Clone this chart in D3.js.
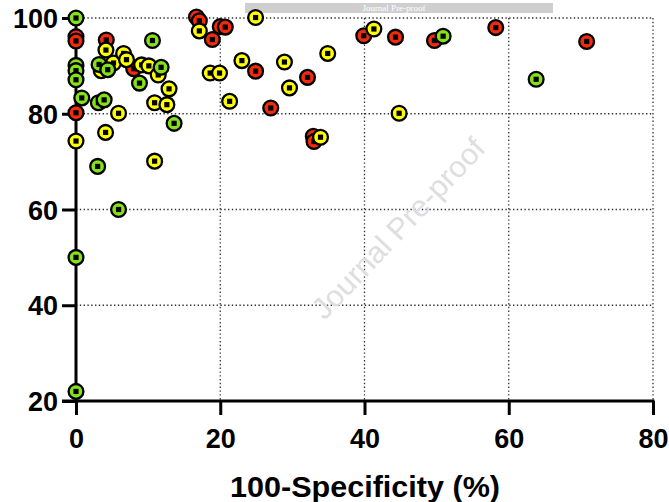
<!DOCTYPE html>
<html><head><meta charset="utf-8">
<script src="https://cdn.jsdelivr.net/npm/d3@7"></script>
<style>body{margin:0;background:#fff}svg{display:block}</style>
</head><body>
<svg id="c" width="669" height="502"></svg>
<script>
const xTicks = [0, 20, 40, 60, 80];
const yTicks = [20, 40, 60, 80, 100];
const xTitle = "100-Specificity (%)";
const redPts = [[0,96.1],[0,95.2],[0,80.2],[4.2,95.4],[8.0,89.4],[16.7,100.2],[17.1,99.4],[18.9,95.5],[20.0,98.2],[20.7,98.1],[24.9,88.9],[27.0,81.2],[32.1,87.6],[32.9,75.3],[33.0,74.2],[39.9,96.3],[44.3,96.0],[49.7,95.3],[58.2,98.0],[70.8,95.1]];
const yellowPts = [[0,74.3],[4.15,93.3],[3.5,89.0],[5.2,90.6],[6.6,92.6],[7.0,91.3],[9.1,90.2],[10.1,90.0],[11.4,88.1],[12.9,85.2],[10.9,82.3],[12.6,81.9],[5.9,80.1],[4.1,76.1],[10.9,70.1],[17.1,97.3],[18.6,88.5],[19.9,88.5],[21.3,82.6],[23.0,91.1],[24.9,100.1],[28.9,90.8],[29.6,85.4],[34.9,92.6],[33.9,75.1],[41.3,97.7],[44.8,80.1]];
const greenPts = [[0,100],[0,90.1],[0,89.0],[0,87.1],[0,50],[0,22],[0.8,83.3],[3.1,82.3],[3.9,82.9],[3.0,69.0],[5.9,60.0],[3.2,90.3],[4.4,89.2],[8.8,86.4],[11.8,89.7],[10.6,95.3],[13.6,78.0],[50.9,96.2],[63.8,87.2]];
const seriesColors = ["#f52a0c", "#ffff00", "#85e21a"];

const svg = d3.select("#c");
const m = {l:76, r:16, t:18, b:101};
const W = 669, H = 502;
const x = d3.scaleLinear().domain([0,80]).range([m.l, W-m.r]);
const y = d3.scaleLinear().domain([20,100]).range([H-m.b, m.t]);

// header bar
svg.append("rect").attr("x",245).attr("y",3).attr("width",308).attr("height",10).attr("fill","#cfcfcf");
svg.append("text").attr("x",394).attr("y",11.3).attr("text-anchor","middle")
  .attr("font-family","Liberation Serif, serif").attr("font-size",9).attr("fill","#fff").text("Journal Pre-proof");

// grid
const g = svg.append("g");
g.selectAll("line.gx").data(xTicks.filter(d=>d>0)).join("line")
  .attr("x1",d=>x(d)).attr("x2",d=>x(d)).attr("y1",y(100)).attr("y2",y(20))
  .attr("stroke","#333").attr("stroke-width",1.3).attr("stroke-dasharray","1.4,2.4");
g.selectAll("line.gy").data(yTicks.filter(d=>d>20)).join("line")
  .attr("y1",d=>y(d)).attr("y2",d=>y(d)).attr("x1",x(0)).attr("x2",x(80))
  .attr("stroke","#333").attr("stroke-width",1.3).attr("stroke-dasharray","1.4,2.4");

// watermark
svg.append("text").attr("transform","translate(400,230) rotate(-46.5)")
  .attr("text-anchor","middle").attr("dominant-baseline","middle")
  .attr("font-family","Liberation Sans, Arial, sans-serif").attr("font-size",30)
  .attr("fill","#dedede").attr("textLength",236).attr("lengthAdjust","spacingAndGlyphs")
  .text("Journal Pre-proof");

// axes
const xAxis = d3.axisBottom(x).tickValues(xTicks).tickSize(14).tickPadding(14).tickFormat(d3.format("d"));
const yAxis = d3.axisLeft(y).tickValues(yTicks).tickSize(14).tickPadding(4).tickFormat(d3.format("d"));
const ax = svg.append("g").attr("transform",`translate(0,${y(20)})`).call(xAxis);
const ay = svg.append("g").attr("transform",`translate(${x(0)},0)`).call(yAxis);
[ax, ay].forEach(a => {
  a.select(".domain").remove();
  a.selectAll(".tick line").attr("stroke","#000").attr("stroke-width",3);
  a.selectAll(".tick text").attr("fill","#000").attr("font-family","Liberation Sans, Arial, sans-serif")
    .attr("font-weight","bold").attr("font-size",27);
});
ax.selectAll(".tick text").attr("dy","0.71em");
ay.selectAll(".tick text").attr("dy","0.36em");
svg.append("line").attr("x1",x(0)-14).attr("x2",x(80)+1.5).attr("y1",y(20)).attr("y2",y(20)).attr("stroke","#000").attr("stroke-width",3);
svg.append("line").attr("x1",x(0)).attr("x2",x(0)).attr("y1",y(20)+1.5).attr("y2",y(100)).attr("stroke","#000").attr("stroke-width",3);

// title
svg.append("text").attr("x",365).attr("y",497).attr("text-anchor","middle")
  .attr("font-family","Liberation Sans, Arial, sans-serif").attr("font-weight","bold").attr("font-size",30)
  .attr("textLength",270).attr("lengthAdjust","spacingAndGlyphs").text(xTitle);

// points
[redPts, yellowPts, greenPts].forEach((pts, i) => {
  const pg = svg.append("g");
  const s = pg.selectAll("g").data(pts).join("g").attr("transform", d => `translate(${x(d[0])},${y(d[1])})`);
  s.append("circle").attr("r",7.4).attr("fill",seriesColors[i]).attr("stroke","#000").attr("stroke-width",2.3);
  s.append("rect").attr("x",-2.6).attr("y",-2.6).attr("width",5.2).attr("height",5.2).attr("fill","#000");
});
</script>
</body></html>
